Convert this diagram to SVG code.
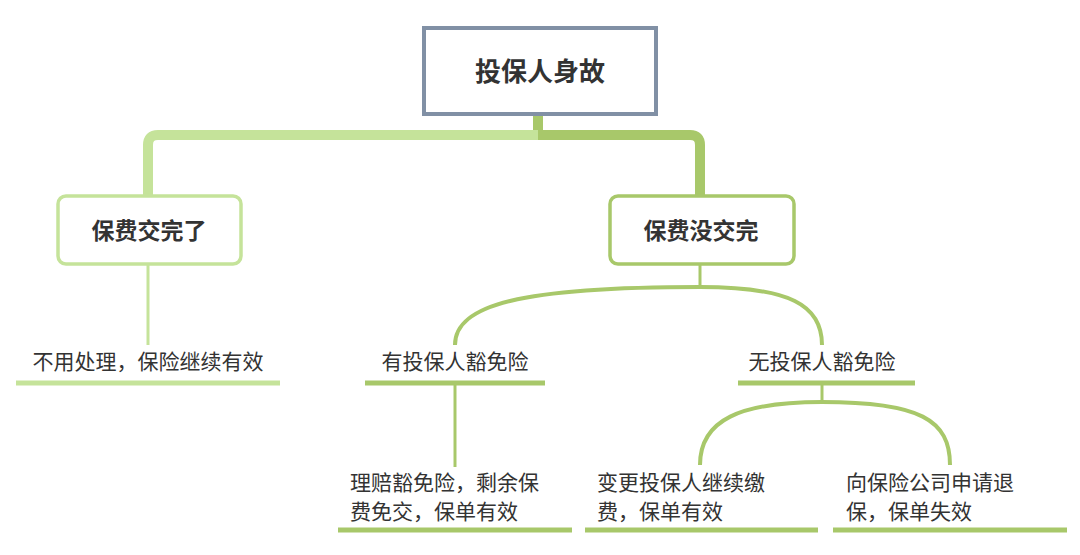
<svg xmlns="http://www.w3.org/2000/svg" width="1080" height="555" viewBox="0 0 1080 555">
<style>
text{font-family:"Noto Sans CJK SC","Liberation Sans",sans-serif;fill:#333}
.b{font-weight:bold;text-anchor:middle}
.t{font-size:21px}
.c{text-anchor:middle}
.lt{stroke:#c5e39a;fill:none}
.dk{stroke:#a8c86a;fill:none}
</style>
<rect width="1080" height="555" fill="#fff"/>
<g id="connectors">
<path d="M538 115V134" stroke="#a8c86a" stroke-width="10"/>
<path class="lt" d="M148 195V145Q148 135 158 135H538" stroke-width="10"/>
<path class="dk" d="M538 135H690Q700 135 700 145V195" stroke-width="10"/>
<path class="lt" d="M148 140V195" stroke-width="3"/>
<path class="dk" d="M700 140V195" stroke-width="3"/>
<path class="lt" d="M148 265V345" stroke-width="3"/>
<path class="dk" d="M700 265V287" stroke-width="3"/>
<path class="dk" d="M455 345C455 305 520 287 700 287C790 287 822 305 822 345" stroke-width="4"/>
<path class="dk" d="M455 385V467" stroke-width="3"/>
<path class="dk" d="M822 385V402" stroke-width="3"/>
<path class="dk" d="M700 465C700 420 740 402 822 402C920 402 950 420 950 465" stroke-width="4"/>
<path class="lt" d="M16 383H280" stroke-width="5"/>
<path class="dk" d="M365 383H545M738 383H915M338 530H572M585 530H818M833 530H1067" stroke-width="5"/>
</g>
<g id="root"><rect x="424" y="28" width="232" height="86" fill="#fff" stroke="#8190a5" stroke-width="4"/><text class="b" x="540" y="81" font-size="26">投保人身故</text></g>
<g id="n1"><rect x="58" y="196" width="183" height="68" rx="8" fill="#fff" stroke="#c5e39a" stroke-width="3.5"/><text class="b" x="149" y="239" font-size="23">保费交完了</text></g>
<g id="n2"><rect x="610" y="196" width="184" height="68" rx="8" fill="#fff" stroke="#a8c86a" stroke-width="3.5"/><text class="b" x="701" y="239" font-size="23">保费没交完</text></g>
<g id="l1"><text class="t c" x="148" y="369">不用处理，保险继续有效</text></g>
<g id="l2"><text class="t c" x="455" y="369">有投保人豁免险</text></g>
<g id="l3"><text class="t c" x="822" y="369">无投保人豁免险</text></g>
<g id="l4"><text class="t" x="350" y="490">理赔豁免险，剩余保</text><text class="t" x="350" y="519">费免交，保单有效</text></g>
<g id="l5"><text class="t" x="597" y="490">变更投保人继续缴</text><text class="t" x="597" y="519">费，保单有效</text></g>
<g id="l6"><text class="t" x="846" y="490">向保险公司申请退</text><text class="t" x="846" y="519">保，保单失效</text></g>
</svg>
